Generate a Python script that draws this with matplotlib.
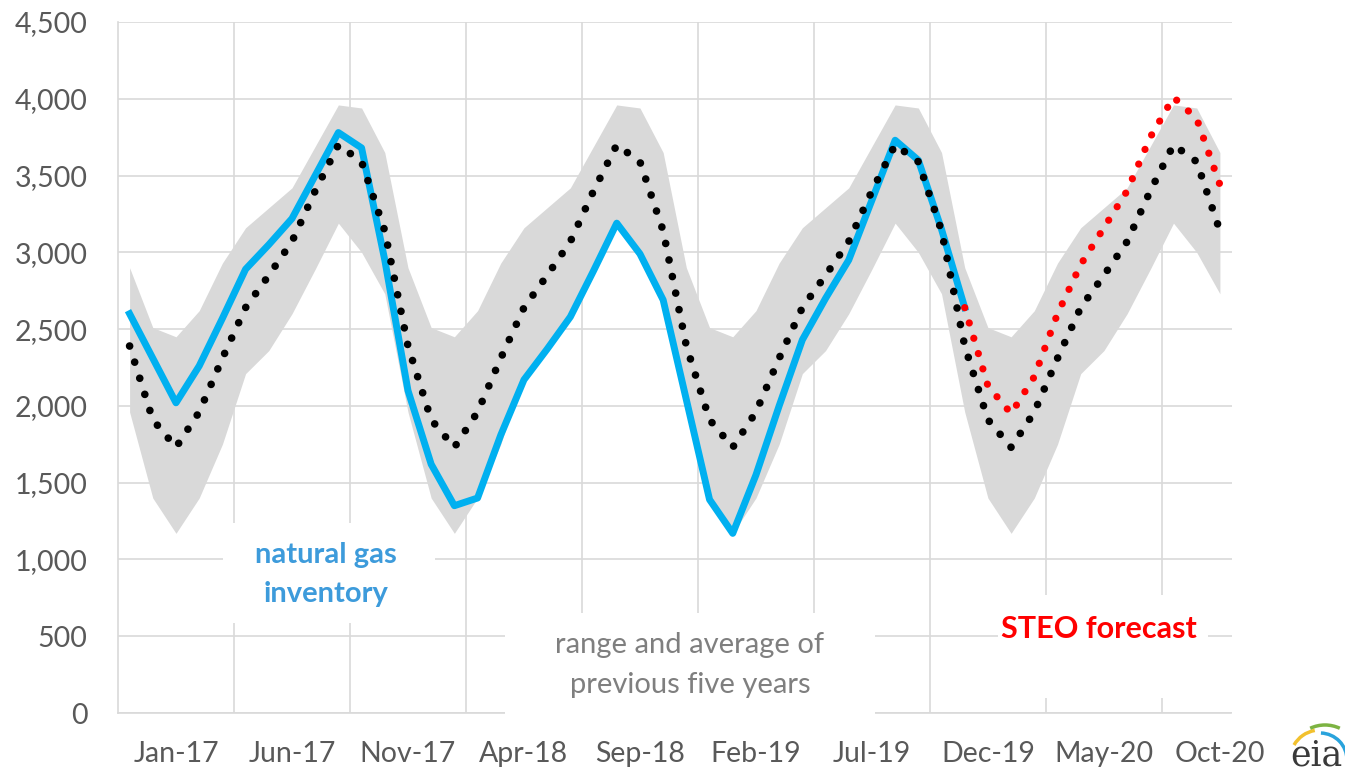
import matplotlib.pyplot as plt
from matplotlib.patches import Arc, Rectangle

plt.rcParams['font.family'] = ['Lato', 'DejaVu Sans']

# monthly values, Jan-17 .. Dec-20 (Bcf)
inventory = [2600, 2310, 2020, 2260, 2570, 2890, 3050, 3220, 3500, 3780, 3680, 2950,
             2100, 1620, 1350, 1400, 1810, 2170, 2370, 2580, 2880, 3190, 2990, 2690,
             2040, 1390, 1170, 1550, 2000, 2430, 2700, 2950, 3340, 3730, 3600, 3150,
             2640]

forecast = [2640, 2130, 1950, 2190, 2600, 2920, 3160, 3400, 3750, 4010, 3870, 3440]
forecast_start = 36

five_yr_avg = [2390, 1910, 1730, 1960, 2310, 2640, 2850, 3070, 3400, 3700, 3590, 3140,
               2390, 1910, 1730, 1960, 2310, 2640, 2850, 3070, 3400, 3700, 3590, 3140,
               2390, 1910, 1730, 1960, 2310, 2640, 2850, 3070, 3400, 3700, 3590, 3140,
               2390, 1910, 1730, 1960, 2310, 2640, 2850, 3070, 3400, 3700, 3590, 3140]

five_yr_max = [2900, 2510, 2450, 2620, 2930, 3160, 3290, 3420, 3690, 3960, 3940, 3650,
               2900, 2510, 2450, 2620, 2930, 3160, 3290, 3420, 3690, 3960, 3940, 3650,
               2900, 2510, 2450, 2620, 2930, 3160, 3290, 3420, 3690, 3960, 3940, 3650,
               2900, 2510, 2450, 2620, 2930, 3160, 3290, 3420, 3690, 3960, 3940, 3650]

five_yr_min = [1960, 1400, 1170, 1400, 1750, 2210, 2360, 2600, 2890, 3190, 3000, 2730,
               1960, 1400, 1170, 1400, 1750, 2210, 2360, 2600, 2890, 3190, 3000, 2730,
               1960, 1400, 1170, 1400, 1750, 2210, 2360, 2600, 2890, 3190, 3000, 2730,
               1960, 1400, 1170, 1400, 1750, 2210, 2360, 2600, 2890, 3190, 3000, 2730]

tick_labels = ['Jan-17', 'Jun-17', 'Nov-17', 'Apr-18', 'Sep-18',
               'Feb-19', 'Jul-19', 'Dec-19', 'May-20', 'Oct-20']

W, H = 1345, 775
fig = plt.figure(figsize=(W / 100, H / 100), dpi=100)
ax = fig.add_axes([118 / W, 62 / H, (1231.5 - 118) / W, (713 - 22) / H])

months = list(range(len(five_yr_avg)))
grid_col = '#D9D9D9'
dots = (0, (0.01, 2.2))

# range of previous five years
ax.fill_between(months, five_yr_min, five_yr_max, color='#D9D9D9', lw=0, zorder=1)

ax.plot(range(len(inventory)), inventory, color='#00B0F0', lw=5,
        solid_joinstyle='round', zorder=3)
ax.plot(months, five_yr_avg, color='black', lw=5.5, linestyle=dots,
        dash_capstyle='round', zorder=4)
fc_x = [forecast_start + k for k in range(len(forecast))]
ax.plot(fc_x, forecast, color='#FF0000', lw=5.2, linestyle=dots,
        dash_capstyle='round', zorder=5)

ax.set_xlim(-0.5, 47.5)
ax.set_ylim(0, 4500)
ax.set_yticks(range(0, 4501, 500))
ax.set_yticklabels([f'{v:,}' for v in range(0, 4501, 500)])
ax.set_xticks([2 + 5 * k for k in range(len(tick_labels))])
ax.set_xticklabels(tick_labels)
ax.set_xticks([4.5 + 5 * k for k in range(9)], minor=True)
ax.tick_params(axis='both', which='both', length=0, labelsize=20.5, colors='#595959')
ax.tick_params(axis='y', pad=22)
ax.tick_params(axis='x', pad=20)

ax.grid(axis='y', which='major', color=grid_col, lw=1.2, zorder=0)
ax.grid(axis='x', which='minor', color=grid_col, lw=1.2, zorder=0)
ax.set_axisbelow(True)
for side in ['top', 'right']:
    ax.spines[side].set_visible(False)
for side in ['left', 'bottom']:
    ax.spines[side].set_color(grid_col)
    ax.spines[side].set_linewidth(1.2)


# white label boxes (pixel extents, top-left origin)
def label_box(x0, y0, x1, y1):
    ax.add_patch(Rectangle((x0 / W, 1 - y1 / H), (x1 - x0) / W, (y1 - y0) / H,
                           transform=fig.transFigure, fc='white', ec='none',
                           zorder=9, clip_on=False))


label_box(223, 523, 435, 623)
label_box(505, 613, 875, 717)
label_box(998, 595, 1208, 698)

ax.text(8.45, 900, 'natural gas\ninventory', color='#3D9BDB', fontsize=21,
        fontweight='bold', ha='center', va='center', linespacing=1.6, zorder=10)
ax.text(24.15, 312, 'range and average of\nprevious five years', color='#7F7F7F',
        fontsize=21, ha='center', va='center', linespacing=1.65, zorder=10)
ax.text(41.8, 550, 'STEO forecast', color='#FF0000', fontsize=22,
        fontweight='bold', ha='center', va='center', zorder=10)

# eia logo
lax = fig.add_axes([1280 / W, 0, 65 / W, 60 / H])
lax.set_xlim(0, 65)
lax.set_ylim(0, 60)
lax.axis('off')
lax.text(36, 2, 'eia', family='DejaVu Serif', fontsize=25, color='#3A3A3A',
         ha='center', va='bottom')
lax.add_patch(Arc((40, 15), 60, 60, theta1=100, theta2=150, color='#F2C12E', lw=2.5))
lax.add_patch(Arc((45, 15), 70, 70, theta1=65, theta2=115, color='#7CB342', lw=2.5))
lax.add_patch(Arc((40, 15), 54, 54, theta1=0, theta2=88, color='#29A3DC', lw=2.5))

fig.savefig('out.png', dpi=100)
